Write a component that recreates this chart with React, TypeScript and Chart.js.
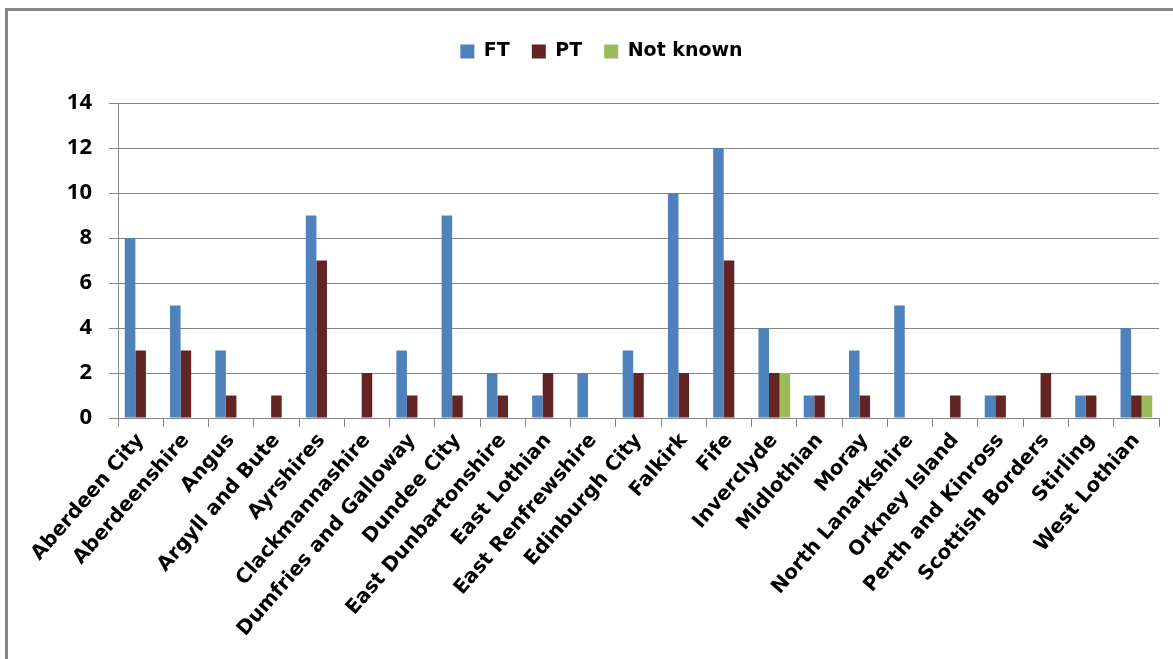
import React, { useEffect, useRef } from "react";
import { Chart, registerables } from "chart.js";

Chart.register(...registerables);

const categories = [
  "Aberdeen City",
  "Aberdeenshire",
  "Angus",
  "Argyll and Bute",
  "Ayrshires",
  "Clackmannashire",
  "Dumfries and Galloway",
  "Dundee City",
  "East Dunbartonshire",
  "East Lothian",
  "East Renfrewshire",
  "Edinburgh City",
  "Falkirk",
  "Fife",
  "Inverclyde",
  "Midlothian",
  "Moray",
  "North Lanarkshire",
  "Orkney Island",
  "Perth and Kinross",
  "Scottish Borders",
  "Stirling",
  "West Lothian",
];

const ftValues = [8, 5, 3, 0, 9, 0, 3, 9, 2, 1, 2, 3, 10, 12, 4, 1, 3, 5, 0, 1, 0, 1, 4];
const ptValues = [3, 3, 1, 1, 7, 2, 1, 1, 1, 2, 0, 2, 2, 7, 2, 1, 1, 0, 1, 1, 2, 1, 1];
const notKnownValues = [0, 0, 0, 0, 0, 0, 0, 0, 0, 0, 0, 0, 0, 0, 2, 0, 0, 0, 0, 0, 0, 0, 1];

const seriesNames = ["FT", "PT", "Not known"];
const seriesColors = ["#4F81BD", "#632523", "#9BBB59"];

const yMin = 0;
const yMax = 14;
const yStep = 2;

const GRID = "#868686";

export default function App() {
  const canvasRef = useRef<HTMLCanvasElement | null>(null);

  useEffect(() => {
    if (!canvasRef.current) return;
    const values = [ftValues, ptValues, notKnownValues];
    const chart = new Chart(canvasRef.current, {
      type: "bar",
      data: {
        labels: categories,
        datasets: seriesNames.map((name, i) => ({
          label: name,
          data: values[i],
          backgroundColor: seriesColors[i],
          borderWidth: 0,
          categoryPercentage: 0.7,
          barPercentage: 1,
        })),
      },
      options: {
        responsive: false,
        animation: false,
        devicePixelRatio: 1,
        layout: { padding: { top: 20, left: 44, right: 14, bottom: 0 } },
        plugins: {
          legend: {
            position: "top",
            labels: {
              boxWidth: 14,
              boxHeight: 14,
              padding: 22,
              color: "#000",
              font: { family: "'DejaVu Sans'", size: 19, weight: "bold" },
            },
          },
          tooltip: { enabled: false },
        },
        scales: {
          x: {
            position: "bottom",
            grid: {
              display: true,
              drawOnChartArea: false,
              drawTicks: true,
              tickLength: 9,
              color: GRID,
              lineWidth: 1,
            },
            border: { display: true, color: GRID, width: 1 },
            ticks: {
              autoSkip: false,
              minRotation: 49,
              maxRotation: 49,
              padding: 2,
              color: "#000",
              font: { family: "'DejaVu Sans'", size: 20, weight: "bold" },
            },
            afterFit: (s: any) => {
              s.height = 241;
            },
          },
          xTop: {
            type: "category",
            position: "top",
            display: true,
            grid: { display: false },
            border: { display: false },
            ticks: { display: false },
            afterFit: (s: any) => {
              s.height = 32;
            },
          },
          y: {
            min: yMin,
            max: yMax,
            ticks: {
              stepSize: yStep,
              padding: 17,
              color: "#000",
              font: { family: "'Open Sans'", size: 22, weight: "bold" },
            },
            grid: {
              color: GRID,
              lineWidth: 1,
              tickLength: 9,
              drawTicks: true,
            },
            border: { display: true, color: GRID, width: 1 },
            afterFit: (s: any) => {
              s.width = 74;
            },
          },
        },
      },
    } as any);
    return () => chart.destroy();
  }, []);

  return (
    <div
      style={{
        position: "absolute",
        left: 0,
        top: 0,
        width: 1173,
        height: 659,
        overflow: "hidden",
        background: "#fff",
      }}
    >
      <div
        style={{
          position: "absolute",
          left: 5,
          top: 8,
          width: 1300,
          height: 800,
          border: "3px solid #878787",
          boxSizing: "border-box",
        }}
      />
      <canvas
        ref={canvasRef}
        width={1173}
        height={659}
        style={{ position: "absolute", left: 0, top: 0, width: 1173, height: 659 }}
      />
    </div>
  );
}
